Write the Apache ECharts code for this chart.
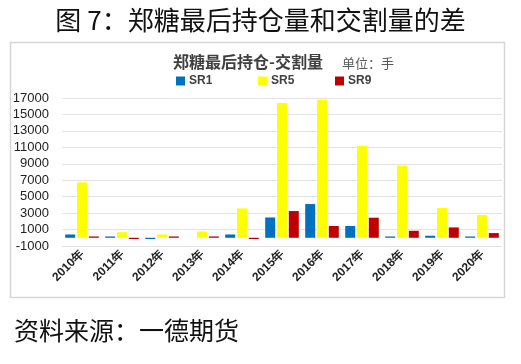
<!DOCTYPE html>
<html><head><meta charset="utf-8">
<script src="https://cdn.jsdelivr.net/npm/echarts@6/dist/echarts.min.js"></script>
<style>html,body{margin:0;padding:0;background:#fff}#c{width:521px;height:364px}</style>
</head><body><div id="c"></div>
<script>
var categories = ['2010年','2011年','2012年','2013年','2014年','2015年','2016年','2017年','2018年','2019年','2020年'];
var sr1 = [400, 160, -150, 0, 400, 2470, 4100, 1430, 160, 250, 160];
var sr5 = [6740, 680, 400, 770, 3570, 16400, 16800, 11180, 8780, 3620, 2770];
var sr9 = [160, -150, 160, 160, -150, 3250, 1430, 2440, 850, 1260, 570];
var yMin = -1000, yMax = 17000, yStep = 2000;

var chart = echarts.init(document.getElementById('c'), null, {renderer:'canvas'});
var cjk = '"Noto Sans CJK SC", sans-serif';
var lat = '"Liberation Sans", Arial, sans-serif';
function legend(name, left){
  return {data:[name], left:left, top:75, itemWidth:9, itemHeight:9, itemGap:0, icon:'rect',
    textStyle:{fontFamily:lat, fontWeight:'bold', fontSize:12, color:'#404040', padding:[0,0,0,-1]}, padding:0};
}
chart.setOption({
  animation:false,
  title:[
    {text:'图 7：郑糖最后持仓量和交割量的差', left:'center', top:2, textStyle:{fontFamily:cjk, fontWeight:'normal', fontSize:26, color:'#111'}},
    {text:'郑糖最后持仓-交割量', left:168, top:49, textStyle:{fontFamily:cjk, fontWeight:'bold', fontSize:16, color:'#404040'}},
    {text:'单位：手', left:337, top:52, textStyle:{fontFamily:cjk, fontWeight:'normal', fontSize:13, color:'#595959'}},
    {text:'资料来源：一德期货', left:9, top:313, textStyle:{fontFamily:cjk, fontWeight:'normal', fontSize:25, color:'#111'}}
  ],
  graphic:[{type:'rect', shape:{x:10.5, y:42.5, width:494, height:255}, style:{fill:'none', stroke:'#d6d6d6', lineWidth:1.5}}],
  legend:[legend('SR1',176), legend('SR5',258), legend('SR9',335)],
  grid:{left:62, right:19, top:98, height:148, containLabel:false},
  xAxis:{type:'category', data:categories,
    axisLine:{show:false}, axisTick:{show:false},
    axisLabel:{rotate:45, margin:6, fontFamily:lat, fontWeight:'bold', fontSize:12, color:'#222', interval:0}},
  yAxis:{type:'value', min:yMin, max:yMax, interval:yStep,
    axisLine:{show:false}, axisTick:{show:false},
    axisLabel:{fontFamily:lat, fontSize:13, color:'#222', margin:13, formatter:function(v){return String(v);}},
    splitLine:{lineStyle:{color:'#e3e3e3', width:1}}},
  series:[
    {name:'SR1', type:'bar', data:sr1, itemStyle:{color:'#0070C0'}, barWidth:10, barGap:'18%'},
    {name:'SR5', type:'bar', data:sr5, itemStyle:{color:'#FFFF00'}, barWidth:10, barGap:'18%'},
    {name:'SR9', type:'bar', data:sr9, itemStyle:{color:'#C00000'}, barWidth:10, barGap:'18%'}
  ]
});
</script></body></html>
